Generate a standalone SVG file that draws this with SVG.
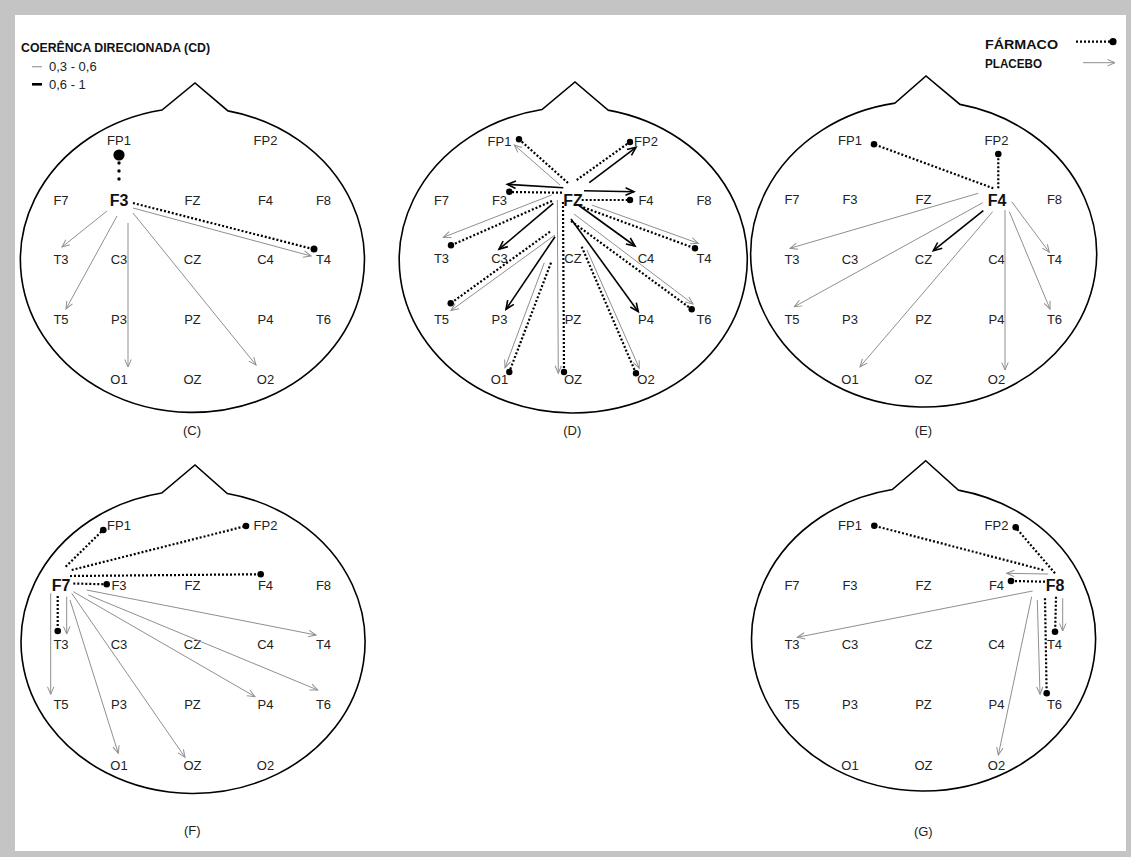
<svg xmlns="http://www.w3.org/2000/svg" width="1131" height="857" viewBox="0 0 1131 857">
<defs>
<style>
.head{fill:none;stroke:#000;stroke-width:1.6;stroke-linejoin:miter}
.lb{font-family:"Liberation Sans",Arial,sans-serif;font-size:13px;fill:#222;text-anchor:middle}
.ctr{font-family:"Liberation Sans",Arial,sans-serif;font-size:16px;font-weight:bold;fill:#111;text-anchor:middle}
.leg{font-family:"Liberation Sans",Arial,sans-serif;font-size:13.5px;font-weight:bold;fill:#111}
.legs{font-family:"Liberation Sans",Arial,sans-serif;font-size:13px;fill:#222}
.pl{fill:none;stroke:#8f8f8f;stroke-width:1;marker-end:url(#ag)}
.bk{fill:none;stroke:#000;stroke-width:1.6;marker-end:url(#ab)}
.fd{fill:none;stroke:#000;stroke-width:2.2;stroke-dasharray:2 2}
.dot{fill:#000}
</style>
<marker id="ag" viewBox="0 0 8 7" refX="7.5" refY="3.5" markerWidth="8" markerHeight="7" markerUnits="userSpaceOnUse" orient="auto" overflow="visible">
<path d="M0,0.3 L7.5,3.5 L0,6.7" fill="none" stroke="#8f8f8f" stroke-width="1"/>
</marker>
<marker id="ab" viewBox="0 0 9 8" refX="8.5" refY="4" markerWidth="9" markerHeight="8" markerUnits="userSpaceOnUse" orient="auto" overflow="visible">
<path d="M0,0.3 L8.5,4 L0,7.7" fill="none" stroke="#000" stroke-width="1.6"/>
</marker>
</defs>

<rect x="0" y="0" width="1131" height="857" fill="#c4c4c4"/>
<rect x="15" y="15" width="1111" height="836" fill="#fff"/>

<g id="legend-cd">
<text class="leg" x="21" y="52" textLength="189" lengthAdjust="spacingAndGlyphs">COERÊNCA DIRECIONADA (CD)</text>
<line x1="32" y1="66.7" x2="42" y2="66.7" stroke="#9a9a9a" stroke-width="1.2"/>
<text class="legs" x="49" y="71">0,3 - 0,6</text>
<line x1="32" y1="84.3" x2="42" y2="84.3" stroke="#000" stroke-width="2.6"/>
<text class="legs" x="49" y="89.3">0,6 - 1</text>
</g>

<g id="legend-group">
<text class="leg" x="985" y="49.3" textLength="73" lengthAdjust="spacingAndGlyphs">FÁRMACO</text>
<text class="leg" x="985" y="68.3" textLength="57" lengthAdjust="spacingAndGlyphs">PLACEBO</text>
<line x1="1076" y1="41.7" x2="1110" y2="41.7" class="fd"/>
<circle cx="1113" cy="41.7" r="3.6" class="dot"/>
<line x1="1083" y1="62.7" x2="1115" y2="62.7" class="pl"/>
</g>

<!-- ============ HEAD C ============ -->
<g id="head-C">
<path class="head" d="M228,110.9 A172,152.4 0 1 1 162,110 L195,83 Z"/>
<g id="C-electrodes">
<text class="lb" x="119" y="144.6">FP1</text>
<text class="lb" x="265.5" y="144.6">FP2</text>
<text class="lb" x="61" y="204.6">F7</text>
<text class="ctr" x="119" y="205.7">F3</text>
<text class="lb" x="192.5" y="204.6">FZ</text>
<text class="lb" x="265.5" y="204.6">F4</text>
<text class="lb" x="323.5" y="204.6">F8</text>
<text class="lb" x="61" y="263.6">T3</text>
<text class="lb" x="119" y="263.6">C3</text>
<text class="lb" x="192.5" y="263.6">CZ</text>
<text class="lb" x="265.5" y="263.6">C4</text>
<text class="lb" x="323.5" y="263.6">T4</text>
<text class="lb" x="61" y="323.6">T5</text>
<text class="lb" x="119" y="323.6">P3</text>
<text class="lb" x="192.5" y="323.6">PZ</text>
<text class="lb" x="265.5" y="323.6">P4</text>
<text class="lb" x="323.5" y="323.6">T6</text>
<text class="lb" x="119" y="383.6">O1</text>
<text class="lb" x="192.5" y="383.6">OZ</text>
<text class="lb" x="265.5" y="383.6">O2</text>
</g>
<text class="lb" x="192" y="434.6">(C)</text>
</g>
<g id="C-connectors">
<circle cx="119" cy="155" r="5.6" class="dot"/>
<line x1="119" y1="163" x2="119" y2="187" stroke="#000" stroke-width="3.4" stroke-linecap="round" stroke-dasharray="0 8"/>
<line class="fd" x1="133" y1="203" x2="311" y2="248.5"/>
<circle cx="314" cy="249" r="3.5" class="dot"/>
<line class="pl" x1="133" y1="208" x2="311" y2="256"/>
<line class="pl" x1="107" y1="211" x2="62" y2="247"/>
<line class="pl" x1="117" y1="216" x2="66" y2="309"/>
<line class="pl" x1="128" y1="223" x2="128" y2="367"/>
<line class="pl" x1="133" y1="213" x2="256" y2="365"/>
</g>

<!-- ============ HEAD D ============ -->
<g id="head-D">
<path class="head" d="M608,110.1 A174,153 0 1 1 542,109.5 L575,82 Z"/>
<g id="D-electrodes">
<text class="lb" x="499.5" y="145.6">FP1</text>
<text class="lb" x="646" y="145.6">FP2</text>
<text class="lb" x="441.5" y="204.6">F7</text>
<text class="lb" x="499.5" y="204.6">F3</text>
<text class="ctr" x="573" y="205.7">FZ</text>
<text class="lb" x="646" y="204.6">F4</text>
<text class="lb" x="704" y="204.6">F8</text>
<text class="lb" x="441.5" y="263">T3</text>
<text class="lb" x="499.5" y="263">C3</text>
<text class="lb" x="573" y="263">CZ</text>
<text class="lb" x="646" y="263">C4</text>
<text class="lb" x="704" y="263">T4</text>
<text class="lb" x="441.5" y="323.9">T5</text>
<text class="lb" x="499.5" y="323.9">P3</text>
<text class="lb" x="573" y="323.9">PZ</text>
<text class="lb" x="646" y="323.9">P4</text>
<text class="lb" x="704" y="323.9">T6</text>
<text class="lb" x="499.5" y="383.9">O1</text>
<text class="lb" x="573" y="383.9">OZ</text>
<text class="lb" x="646" y="383.9">O2</text>
</g>
<text class="lb" x="572.3" y="435.3">(D)</text>
</g>
<g id="D-connectors">
<!-- farmaco -->
<line class="fd" x1="568" y1="183" x2="521" y2="141"/>
<circle cx="519" cy="139.3" r="3.2" class="dot"/>
<line class="fd" x1="562" y1="192.7" x2="511" y2="192"/>
<circle cx="509.3" cy="191.7" r="3.2" class="dot"/>
<line class="fd" x1="552" y1="201" x2="453" y2="244.5"/>
<circle cx="451" cy="245.3" r="3.2" class="dot"/>
<line class="fd" x1="550" y1="231.7" x2="452.5" y2="302"/>
<circle cx="450.7" cy="303.3" r="3.2" class="dot"/>
<line class="fd" x1="551" y1="262.7" x2="510" y2="370"/>
<circle cx="509.3" cy="372" r="3.2" class="dot"/>
<line class="fd" x1="563" y1="202" x2="564" y2="370"/>
<circle cx="564" cy="372" r="3.2" class="dot"/>
<line class="fd" x1="581.7" y1="246.7" x2="635" y2="371"/>
<circle cx="636" cy="373.3" r="3.2" class="dot"/>
<line class="fd" x1="571" y1="221" x2="690" y2="308"/>
<circle cx="691.7" cy="309.3" r="3.2" class="dot"/>
<line class="fd" x1="583.3" y1="207.3" x2="693" y2="247.6"/>
<circle cx="695" cy="248.3" r="3.2" class="dot"/>
<line class="fd" x1="581.7" y1="200" x2="628" y2="200"/>
<circle cx="630" cy="200" r="3.2" class="dot"/>
<line class="fd" x1="576.7" y1="180" x2="628" y2="143.3"/>
<circle cx="630" cy="142" r="3.2" class="dot"/>
<!-- placebo 0.3-0.6 -->
<line class="pl" x1="560" y1="185" x2="514.3" y2="145"/>
<line class="pl" x1="551.7" y1="195" x2="443.3" y2="237.3"/>
<line class="pl" x1="557.3" y1="200" x2="558.3" y2="373.3"/>
<line class="pl" x1="555" y1="235" x2="451" y2="310.5"/>
<line class="pl" x1="544.3" y1="262.7" x2="505" y2="367.7"/>
<line class="pl" x1="587" y1="250" x2="639.3" y2="368.3"/>
<line class="pl" x1="574" y1="214" x2="693" y2="304"/>
<line class="pl" x1="591.7" y1="205" x2="698.3" y2="243.3"/>
<!-- placebo 0.6-1 -->
<line class="bk" x1="563.3" y1="187.7" x2="507.3" y2="184.3"/>
<line class="bk" x1="553.3" y1="203.3" x2="499" y2="249.3"/>
<line class="bk" x1="555" y1="236.7" x2="506" y2="309.3"/>
<line class="bk" x1="571" y1="219" x2="638.3" y2="311.7"/>
<line class="bk" x1="579" y1="205.5" x2="635" y2="246"/>
<line class="bk" x1="584" y1="190.7" x2="634" y2="191.7"/>
<line class="bk" x1="589.3" y1="182.7" x2="636" y2="147.3"/>
</g>

<!-- ============ HEAD E ============ -->
<g id="head-E">
<path class="head" d="M960,104.4 A173,153 0 1 1 895,103.1 L926,76 Z"/>
<g id="E-electrodes">
<text class="lb" x="850" y="144.6">FP1</text>
<text class="lb" x="996.5" y="144.6">FP2</text>
<text class="lb" x="792" y="204">F7</text>
<text class="lb" x="850" y="204">F3</text>
<text class="lb" x="923.5" y="204">FZ</text>
<text class="ctr" x="997" y="205.5">F4</text>
<text class="lb" x="1054.5" y="204">F8</text>
<text class="lb" x="792" y="263.6">T3</text>
<text class="lb" x="850" y="263.6">C3</text>
<text class="lb" x="923.5" y="263.6">CZ</text>
<text class="lb" x="996.5" y="263.6">C4</text>
<text class="lb" x="1054.5" y="263.6">T4</text>
<text class="lb" x="792" y="323.6">T5</text>
<text class="lb" x="850" y="323.6">P3</text>
<text class="lb" x="923.5" y="323.6">PZ</text>
<text class="lb" x="996.5" y="323.6">P4</text>
<text class="lb" x="1054.5" y="323.6">T6</text>
<text class="lb" x="850" y="383.6">O1</text>
<text class="lb" x="923.5" y="383.6">OZ</text>
<text class="lb" x="996.5" y="383.6">O2</text>
</g>
<text class="lb" x="923.3" y="434.6">(E)</text>
</g>
<g id="E-connectors">
<line class="fd" x1="993.3" y1="188.3" x2="876" y2="145"/>
<circle cx="874" cy="144.3" r="3.3" class="dot"/>
<line class="fd" x1="998.3" y1="188.3" x2="998.3" y2="156"/>
<circle cx="998.3" cy="154" r="3.3" class="dot"/>
<line class="pl" x1="978.3" y1="193.3" x2="790" y2="248.3"/>
<line class="pl" x1="982.7" y1="202.7" x2="794.3" y2="306.7"/>
<line class="pl" x1="992.7" y1="211.7" x2="860" y2="366.7"/>
<line class="pl" x1="1005" y1="210" x2="1005" y2="370"/>
<line class="pl" x1="1011.7" y1="201.7" x2="1049.3" y2="252.3"/>
<line class="pl" x1="1009.3" y1="211.7" x2="1050" y2="309"/>
<line class="bk" x1="983.3" y1="210.7" x2="933.3" y2="250.7"/>
</g>

<!-- ============ HEAD F ============ -->
<g id="head-F">
<path class="head" d="M227.3,493.5 A172,151.5 0 1 1 161.7,493 L195,465 Z"/>
<g id="F-electrodes">
<text class="lb" x="119" y="529.6">FP1</text>
<text class="lb" x="265.5" y="529.6">FP2</text>
<text class="ctr" x="61" y="590.7">F7</text>
<text class="lb" x="119" y="589.6">F3</text>
<text class="lb" x="192.5" y="589.6">FZ</text>
<text class="lb" x="265.5" y="589.6">F4</text>
<text class="lb" x="323.5" y="589.6">F8</text>
<text class="lb" x="61" y="648.6">T3</text>
<text class="lb" x="119" y="648.6">C3</text>
<text class="lb" x="192.5" y="648.6">CZ</text>
<text class="lb" x="265.5" y="648.6">C4</text>
<text class="lb" x="323.5" y="648.6">T4</text>
<text class="lb" x="61" y="708.6">T5</text>
<text class="lb" x="119" y="708.6">P3</text>
<text class="lb" x="192.5" y="708.6">PZ</text>
<text class="lb" x="265.5" y="708.6">P4</text>
<text class="lb" x="323.5" y="708.6">T6</text>
<text class="lb" x="119" y="769.6">O1</text>
<text class="lb" x="192.5" y="769.6">OZ</text>
<text class="lb" x="265.5" y="769.6">O2</text>
</g>
<text class="lb" x="192.3" y="834.6">(F)</text>
</g>
<g id="F-connectors">
<line class="fd" x1="65.7" y1="566.7" x2="101.5" y2="531.5"/>
<circle cx="103.3" cy="530" r="3.3" class="dot"/>
<line class="fd" x1="71.7" y1="570" x2="244" y2="526.5"/>
<circle cx="246" cy="526" r="3.3" class="dot"/>
<line class="fd" x1="70" y1="576" x2="258.5" y2="574.3"/>
<circle cx="260.7" cy="574.3" r="3.3" class="dot"/>
<line class="fd" x1="73.3" y1="583.5" x2="104.5" y2="584.3"/>
<circle cx="106.7" cy="584.3" r="3.3" class="dot"/>
<line class="fd" x1="57.7" y1="596" x2="57.7" y2="629"/>
<circle cx="57.7" cy="631" r="3.3" class="dot"/>
<line class="pl" x1="66.7" y1="596.7" x2="66.7" y2="634"/>
<line class="pl" x1="50.7" y1="593.3" x2="50.7" y2="694.3"/>
<line class="pl" x1="70" y1="600" x2="118.3" y2="753.3"/>
<line class="pl" x1="71.7" y1="593.3" x2="185" y2="757.3"/>
<line class="pl" x1="73.3" y1="591.7" x2="255" y2="696.7"/>
<line class="pl" x1="88.3" y1="595" x2="317.7" y2="690"/>
<line class="pl" x1="86.7" y1="590" x2="316" y2="635"/>
</g>

<!-- ============ HEAD G ============ -->
<g id="head-G">
<path class="head" d="M958.3,490.1 A172,152 0 1 1 892.3,489.5 L925.7,460.7 Z"/>
<g id="G-electrodes">
<text class="lb" x="850" y="529.6">FP1</text>
<text class="lb" x="996.5" y="529.6">FP2</text>
<text class="lb" x="792" y="589.6">F7</text>
<text class="lb" x="850" y="589.6">F3</text>
<text class="lb" x="923.5" y="589.6">FZ</text>
<text class="lb" x="996.5" y="589.6">F4</text>
<text class="ctr" x="1055" y="590.7">F8</text>
<text class="lb" x="792" y="648.9">T3</text>
<text class="lb" x="850" y="648.9">C3</text>
<text class="lb" x="923.5" y="648.9">CZ</text>
<text class="lb" x="996.5" y="648.9">C4</text>
<text class="lb" x="1054.5" y="648.9">T4</text>
<text class="lb" x="792" y="708.9">T5</text>
<text class="lb" x="850" y="708.9">P3</text>
<text class="lb" x="923.5" y="708.9">PZ</text>
<text class="lb" x="996.5" y="708.9">P4</text>
<text class="lb" x="1054.5" y="708.9">T6</text>
<text class="lb" x="850" y="769.6">O1</text>
<text class="lb" x="923.5" y="769.6">OZ</text>
<text class="lb" x="996.5" y="769.6">O2</text>
</g>
<text class="lb" x="923.3" y="836.3">(G)</text>
</g>
<g id="G-connectors">
<line class="fd" x1="1043.3" y1="570" x2="876.3" y2="526.3"/>
<circle cx="874.3" cy="525.7" r="3.3" class="dot"/>
<line class="fd" x1="1055" y1="573.3" x2="1017" y2="529"/>
<circle cx="1015.7" cy="527.3" r="3.3" class="dot"/>
<line class="fd" x1="1045" y1="581.7" x2="1013" y2="581"/>
<circle cx="1011" cy="581" r="3.3" class="dot"/>
<line class="fd" x1="1056" y1="596.7" x2="1055.2" y2="629.5"/>
<circle cx="1055" cy="631.7" r="3.3" class="dot"/>
<line class="fd" x1="1045" y1="598.3" x2="1046.6" y2="691"/>
<circle cx="1046.7" cy="693.3" r="3.3" class="dot"/>
<line class="pl" x1="1048.3" y1="574" x2="1006.7" y2="573.3"/>
<line class="pl" x1="1062.7" y1="598.3" x2="1062.7" y2="631"/>
<line class="pl" x1="1032.7" y1="591" x2="797.3" y2="637.3"/>
<line class="pl" x1="1037.3" y1="600" x2="1040" y2="694.3"/>
<line class="pl" x1="1031.7" y1="596.7" x2="998.3" y2="755"/>
</g>
</svg>
